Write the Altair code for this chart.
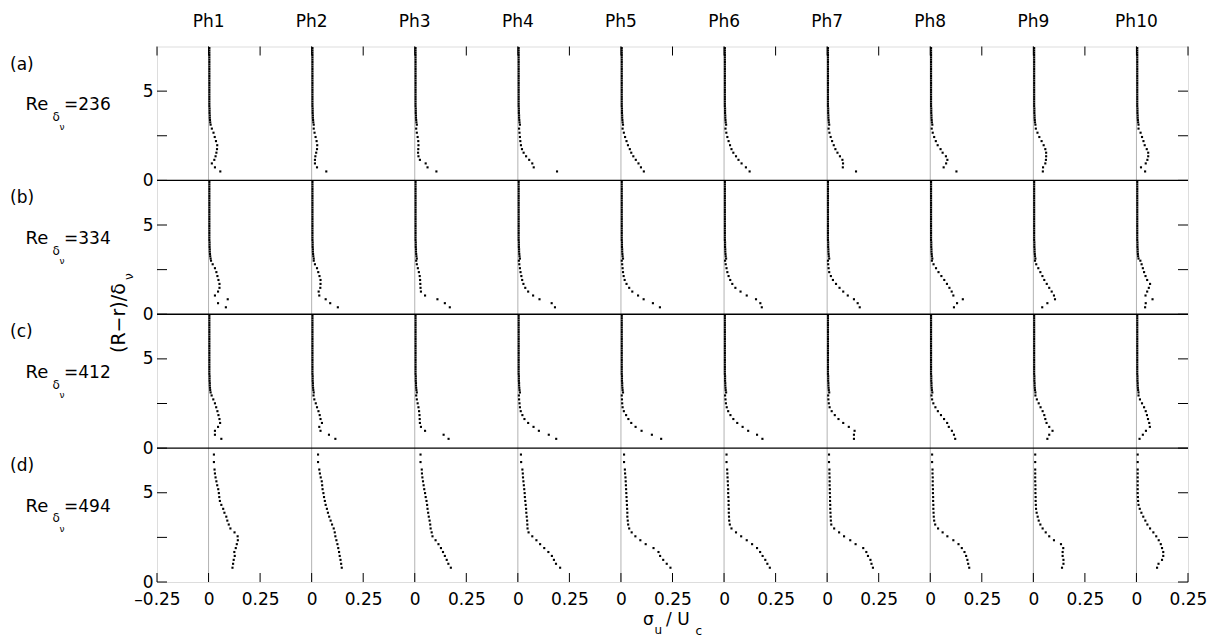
import altair as alt
import pandas as pd

# ---------------- data ----------------
phases = ["Ph1", "Ph2", "Ph3", "Ph4", "Ph5", "Ph6", "Ph7", "Ph8", "Ph9", "Ph10"]
row_tags = ["(a)", "(b)", "(c)", "(d)"]
re_values = ["=236", "=334", "=412", "=494"]

COL_STEP = 0.5   # horizontal shift between phases (sigma_u/U_c units)
ROW_H = 7.5      # height of one row ((R-r)/delta_nu units)

# dense upper part of the profiles in rows (a)-(c)
y_up = [3.12, 3.25, 3.38, 3.51, 3.64, 3.77, 3.90, 4.03, 4.16, 4.29, 4.42, 4.55,
        4.68, 4.81, 4.94, 5.07, 5.20, 5.33, 5.46, 5.59, 5.72, 5.85, 5.98, 6.11,
        6.24, 6.37, 6.50, 6.63, 6.76, 6.89, 7.02, 7.15, 7.28, 7.41]
x_up = [0.010, 0.008, 0.007, 0.006, 0.006, 0.005, 0.005, 0.005, 0.004, 0.004, 0.004, 0.004,
        0.004, 0.004, 0.004, 0.004, 0.004, 0.004, 0.004, 0.004, 0.004, 0.004, 0.004, 0.004,
        0.004, 0.004, 0.004, 0.004, 0.004, 0.004, 0.004, 0.004, 0.004, 0.004]

# row (a) Re=236, near-wall part
ya_low = [0.50, 0.73, 0.95, 1.15, 1.35, 1.55, 1.75, 1.97, 2.20, 2.43, 2.67, 2.90]
xa = [
    [0.057, 0.031, 0.016, 0.028, 0.034, 0.038, 0.041, 0.042, 0.036, 0.030, 0.024, 0.016],
    [0.071, 0.026, 0.016, 0.016, 0.018, 0.022, 0.026, 0.027, 0.024, 0.019, 0.014, 0.010],
    [0.105, 0.062, 0.053, 0.025, 0.018, 0.016, 0.017, 0.018, 0.017, 0.014, 0.010, 0.007],
    [0.190, 0.077, 0.070, 0.055, 0.040, 0.028, 0.020, 0.015, 0.012, 0.010, 0.008, 0.006],
    [0.111, 0.097, 0.085, 0.072, 0.060, 0.050, 0.043, 0.034, 0.027, 0.020, 0.014, 0.008],
    [0.124, 0.106, 0.085, 0.070, 0.058, 0.045, 0.036, 0.029, 0.022, 0.016, 0.011, 0.007],
    [0.140, 0.076, 0.077, 0.074, 0.062, 0.050, 0.040, 0.032, 0.024, 0.017, 0.011, 0.007],
    [0.127, 0.065, 0.077, 0.083, 0.076, 0.060, 0.050, 0.036, 0.027, 0.019, 0.012, 0.007],
    [0.046, 0.047, 0.058, 0.061, 0.062, 0.062, 0.058, 0.050, 0.040, 0.029, 0.020, 0.012],
    [0.042, 0.022, 0.045, 0.053, 0.057, 0.057, 0.050, 0.040, 0.034, 0.027, 0.020, 0.010],
]

# row (b) Re=334, near-wall part
yb_low = [0.39, 0.62, 0.84, 1.05, 1.27, 1.48, 1.70, 1.92, 2.14, 2.36, 2.58, 2.80, 3.00]
xb = [
    [0.084, 0.046, 0.093, 0.031, 0.046, 0.053, 0.053, 0.048, 0.043, 0.038, 0.031, 0.020, 0.012],
    [0.127, 0.090, 0.068, 0.037, 0.034, 0.042, 0.043, 0.043, 0.038, 0.032, 0.026, 0.016, 0.010],
    [0.170, 0.146, 0.110, 0.050, 0.030, 0.028, 0.027, 0.026, 0.024, 0.020, 0.015, 0.010, 0.007],
    [0.180, 0.164, 0.105, 0.074, 0.050, 0.036, 0.027, 0.021, 0.017, 0.013, 0.010, 0.007, 0.005],
    [0.189, 0.155, 0.110, 0.083, 0.055, 0.040, 0.027, 0.018, 0.013, 0.010, 0.008, 0.006, 0.004],
    [0.183, 0.176, 0.155, 0.110, 0.080, 0.055, 0.040, 0.030, 0.022, 0.016, 0.012, 0.008, 0.005],
    [0.158, 0.148, 0.130, 0.100, 0.078, 0.060, 0.043, 0.028, 0.018, 0.010, 0.007, 0.005, 0.004],
    [0.115, 0.130, 0.158, 0.112, 0.104, 0.093, 0.081, 0.068, 0.054, 0.040, 0.028, 0.016, 0.008],
    [0.043, 0.068, 0.105, 0.100, 0.089, 0.077, 0.065, 0.053, 0.044, 0.034, 0.024, 0.014, 0.008],
    [0.042, 0.045, 0.078, 0.044, 0.052, 0.060, 0.066, 0.052, 0.044, 0.037, 0.031, 0.025, 0.019],
]

# row (c) Re=412, near-wall part
yc_low = [0.52, 0.75, 0.97, 1.19, 1.41, 1.63, 1.85, 2.07, 2.29, 2.51, 2.73, 2.95]
xc = [
    [0.062, 0.031, 0.031, 0.046, 0.056, 0.053, 0.048, 0.043, 0.037, 0.031, 0.023, 0.015],
    [0.115, 0.084, 0.043, 0.037, 0.050, 0.043, 0.039, 0.033, 0.026, 0.020, 0.013, 0.009],
    [0.164, 0.140, 0.050, 0.030, 0.025, 0.024, 0.023, 0.021, 0.018, 0.014, 0.010, 0.007],
    [0.186, 0.150, 0.102, 0.076, 0.050, 0.032, 0.022, 0.014, 0.010, 0.008, 0.006, 0.005],
    [0.195, 0.150, 0.100, 0.071, 0.050, 0.036, 0.025, 0.014, 0.008, 0.006, 0.005, 0.004],
    [0.186, 0.160, 0.117, 0.090, 0.064, 0.045, 0.031, 0.020, 0.013, 0.009, 0.007, 0.005],
    [0.130, 0.130, 0.133, 0.105, 0.078, 0.055, 0.037, 0.022, 0.012, 0.008, 0.006, 0.005],
    [0.121, 0.115, 0.105, 0.090, 0.082, 0.067, 0.052, 0.037, 0.025, 0.015, 0.009, 0.006],
    [0.068, 0.077, 0.093, 0.077, 0.064, 0.058, 0.053, 0.045, 0.035, 0.026, 0.017, 0.010],
    [0.015, 0.031, 0.046, 0.065, 0.062, 0.056, 0.051, 0.045, 0.037, 0.027, 0.017, 0.010],
]

# row (d) Re=494, whole profile
yd = [0.80, 1.02, 1.24, 1.46, 1.68, 1.90, 2.12, 2.34, 2.56, 2.78, 3.00, 3.22, 3.44, 3.66,
      3.88, 4.10, 4.32, 4.54, 4.76, 4.98, 5.20, 5.42, 5.64, 5.86, 6.08, 6.30, 6.72, 7.14]
xd = [
    [0.116, 0.119, 0.122, 0.127, 0.125, 0.132, 0.137, 0.142, 0.141, 0.126, 0.106, 0.098, 0.091, 0.086,
     0.077, 0.071, 0.062, 0.055, 0.052, 0.050, 0.047, 0.042, 0.038, 0.034, 0.031, 0.029, 0.026, 0.026],
    [0.146, 0.143, 0.140, 0.136, 0.133, 0.129, 0.125, 0.120, 0.115, 0.112, 0.107, 0.099, 0.092, 0.085,
     0.079, 0.074, 0.068, 0.064, 0.060, 0.057, 0.053, 0.051, 0.049, 0.044, 0.040, 0.037, 0.031, 0.031],
    [0.175, 0.163, 0.155, 0.146, 0.137, 0.127, 0.115, 0.101, 0.086, 0.082, 0.077, 0.075, 0.072, 0.068,
     0.065, 0.062, 0.060, 0.057, 0.053, 0.050, 0.046, 0.043, 0.040, 0.037, 0.035, 0.034, 0.028, 0.028],
    [0.205, 0.185, 0.175, 0.165, 0.148, 0.128, 0.108, 0.090, 0.070, 0.052, 0.047, 0.046, 0.045, 0.043,
     0.041, 0.040, 0.038, 0.036, 0.034, 0.033, 0.031, 0.029, 0.027, 0.025, 0.024, 0.022, 0.016, 0.015],
    [0.240, 0.222, 0.205, 0.190, 0.182, 0.158, 0.120, 0.094, 0.070, 0.052, 0.040, 0.035, 0.033, 0.031,
     0.031, 0.030, 0.029, 0.028, 0.027, 0.026, 0.025, 0.024, 0.023, 0.022, 0.020, 0.019, 0.015, 0.015],
    [0.222, 0.210, 0.200, 0.187, 0.175, 0.160, 0.136, 0.110, 0.083, 0.058, 0.036, 0.028, 0.025, 0.024,
     0.023, 0.023, 0.022, 0.022, 0.021, 0.020, 0.020, 0.019, 0.018, 0.017, 0.016, 0.015, 0.012, 0.012],
    [0.222, 0.215, 0.210, 0.198, 0.190, 0.175, 0.138, 0.112, 0.082, 0.058, 0.034, 0.020, 0.018, 0.017,
     0.016, 0.015, 0.015, 0.014, 0.014, 0.013, 0.013, 0.012, 0.012, 0.012, 0.011, 0.011, 0.009, 0.009],
    [0.189, 0.184, 0.180, 0.174, 0.166, 0.153, 0.137, 0.112, 0.083, 0.060, 0.038, 0.024, 0.019, 0.017,
     0.016, 0.015, 0.015, 0.014, 0.014, 0.013, 0.013, 0.012, 0.012, 0.012, 0.011, 0.011, 0.009, 0.009],
    [0.139, 0.146, 0.146, 0.142, 0.142, 0.145, 0.134, 0.100, 0.077, 0.060, 0.045, 0.034, 0.026, 0.021,
     0.016, 0.013, 0.012, 0.011, 0.011, 0.010, 0.010, 0.010, 0.009, 0.009, 0.009, 0.009, 0.009, 0.009],
    [0.100, 0.107, 0.124, 0.130, 0.130, 0.124, 0.118, 0.108, 0.096, 0.082, 0.066, 0.053, 0.043, 0.033,
     0.024, 0.016, 0.010, 0.008, 0.007, 0.006, 0.006, 0.006, 0.006, 0.006, 0.006, 0.006, 0.006, 0.006],
]

# axis ticks / labels
x_ticks = [-0.25, 0.0, 0.25, 0.5, 0.75, 1.0, 1.25, 1.5, 1.75, 2.0, 2.25, 2.5, 2.75,
           3.0, 3.25, 3.5, 3.75, 4.0, 4.25, 4.5, 4.75]
y_ticks = [0, 2.5, 5, 7.5, 10, 12.5, 15, 17.5, 20, 22.5, 25, 27.5]
y_label_vals = [0, 5, 7.5, 12.5, 15, 20, 22.5, 27.5]
row_lines = [7.5, 15, 22.5]

# ---------------- build tables ----------------
recs = []
for r, (ylow, xs) in enumerate([(ya_low, xa), (yb_low, xb), (yc_low, xc)]):
    base = (3 - r) * ROW_H
    for p in range(len(phases)):
        off = p * COL_STEP
        for y, x in zip(ylow, xs[p]):
            recs.append({"x": x + off, "y": y + base})
        for y, x in zip(y_up, x_up):
            recs.append({"x": x + off, "y": y + base})
for p in range(len(phases)):
    for y, x in zip(yd, xd[p]):
        recs.append({"x": x + p * COL_STEP, "y": y})
pts = pd.DataFrame(recs)

cols = pd.DataFrame({"x": [i * COL_STEP for i in range(len(phases))], "ph": phases})
rowlab = pd.DataFrame({
    "tag": row_tags,
    "re": re_values,
    "yt": [(3 - i) * ROW_H + 6.21 for i in range(4)],
    "yr": [(3 - i) * ROW_H + 3.94 for i in range(4)],
    "yd": [(3 - i) * ROW_H + 3.34 for i in range(4)],
    "yn": [(3 - i) * ROW_H + 2.82 for i in range(4)],
})
xt = pd.DataFrame({"x": x_ticks})
yt = pd.DataFrame({"y": y_ticks})
rl = pd.DataFrame({"y": row_lines})

W, H = 1031, 535.5
FONT = "DejaVu Sans"
xs_ = alt.Scale(domain=[-0.25, 4.75], nice=False, zero=False)
ys_ = alt.Scale(domain=[0, 30], nice=False, zero=False)

x_lab = ("datum.value < 0 ? '\u20130.25' : "
         "(abs(datum.value / 0.5 - round(datum.value / 0.5)) < 0.01 ? '0' : '0.25')")
y_lab = "(datum.value % 7.5) < 0.01 ? '0' : '5'"

X_AXIS = alt.Axis(values=x_ticks, labelExpr=x_lab, ticks=False, tickSize=0, domain=False,
                  grid=False, labelPadding=9, labelFontSize=17, labelFont=FONT,
                  labelColor="black", title=None, labelFlush=False, labelOverlap=False)
Y_AXIS = alt.Axis(values=y_label_vals, labelExpr=y_lab, ticks=False, tickSize=0, domain=False,
                  grid=False, labelPadding=4, labelFontSize=17, labelFont=FONT,
                  labelColor="black", title=None, labelFlush=False, labelOverlap=False)


def X(f):
    return alt.X(f, scale=xs_, axis=X_AXIS)


def Y(f):
    return alt.Y(f, scale=ys_, axis=Y_AXIS)


points = alt.Chart(pts).mark_square(size=4.5, color="black", opacity=1).encode(
    x=X("x:Q"), y=Y("y:Q"))

dotted = alt.Chart(cols).mark_rule(color="#666666", strokeDash=[1, 1], strokeWidth=1).encode(
    x=X("x:Q"))
seps = alt.Chart(rl).mark_rule(color="black", strokeWidth=1.3).encode(y=Y("y:Q"))

tick_b = alt.Chart(xt).mark_rule(color="black", strokeWidth=1).encode(
    x=X("x:Q"), y=alt.value(H), y2=alt.value(H - 9))
tick_t = alt.Chart(xt).mark_rule(color="black", strokeWidth=1).encode(
    x=X("x:Q"), y=alt.value(0), y2=alt.value(9))
tick_l = alt.Chart(yt).mark_rule(color="black", strokeWidth=1).encode(
    y=Y("y:Q"), x=alt.value(0), x2=alt.value(10))
tick_r = alt.Chart(yt).mark_rule(color="black", strokeWidth=1).encode(
    y=Y("y:Q"), x=alt.value(W - 10), x2=alt.value(W))

heads = alt.Chart(cols).mark_text(font=FONT, fontSize=17, align="center", baseline="alphabetic",
                                  color="black").encode(
    x=X("x:Q"), y=alt.value(-19.2), text="ph:N")

tag_t = alt.Chart(rowlab).mark_text(font=FONT, fontSize=17, align="left", baseline="alphabetic",
                                    color="black").encode(
    x=alt.value(-147), y=Y("yt:Q"), text="tag:N")
re_t = alt.Chart(rowlab).mark_text(font=FONT, fontSize=18, align="left", baseline="alphabetic",
                                   color="black", text="Re").encode(
    x=alt.value(-131.4), y=Y("yr:Q"))
d_t = alt.Chart(rowlab).mark_text(font=FONT, fontSize=12, align="left", baseline="alphabetic",
                                  color="black", text="\u03b4").encode(
    x=alt.value(-104.5), y=Y("yd:Q"))
n_t = alt.Chart(rowlab).mark_text(font=FONT, fontSize=9, align="left", baseline="alphabetic",
                                  color="black", text="\u03bd").encode(
    x=alt.value(-97.5), y=Y("yn:Q"))
eq_t = alt.Chart(rowlab).mark_text(font=FONT, fontSize=17, align="left", baseline="alphabetic",
                                   color="black").encode(
    x=alt.value(-93), y=Y("yr:Q"), text="re:N")

one = pd.DataFrame({"k": [0]})
ytitle = alt.Chart(one).mark_text(font=FONT, fontSize=19, align="left", baseline="alphabetic",
                                  angle=270, color="black", text="(R\u2212r)/\u03b4").encode(
    x=alt.value(-32), y=alt.value(306.5))
ytitle_sub = alt.Chart(one).mark_text(font=FONT, fontSize=12, align="left", baseline="alphabetic",
                                      angle=270, color="black", text="\u03bd").encode(
    x=alt.value(-24), y=alt.value(233.5))

xt_sigma = alt.Chart(one).mark_text(font=FONT, fontSize=17, align="left", baseline="alphabetic",
                                    color="black", text="\u03c3").encode(
    x=alt.value(486), y=alt.value(578.5))
xt_u = alt.Chart(one).mark_text(font=FONT, fontSize=12, align="left", baseline="alphabetic",
                                color="black", text="u").encode(
    x=alt.value(497.5), y=alt.value(587.5))
xt_U = alt.Chart(one).mark_text(font=FONT, fontSize=17, align="left", baseline="alphabetic",
                                color="black", text="/ U").encode(
    x=alt.value(509), y=alt.value(578.5))
xt_c = alt.Chart(one).mark_text(font=FONT, fontSize=12, align="left", baseline="alphabetic",
                                color="black", text="c").encode(
    x=alt.value(538.5), y=alt.value(588))

chart = alt.layer(
    dotted, seps, points, tick_b, tick_t, tick_l, tick_r,
    heads, tag_t, re_t, d_t, n_t, eq_t, ytitle, ytitle_sub, xt_sigma, xt_u, xt_U, xt_c,
).properties(
    width=W, height=H,
    autosize=alt.AutoSizeParams(type="none"),
    padding={"left": 149, "top": 38.5, "right": 20, "bottom": 58},
    background="white",
).configure_view(stroke="black", strokeWidth=1.3).configure(font=FONT)

chart.save("out.html", embed_options={"renderer": "svg", "actions": False})
